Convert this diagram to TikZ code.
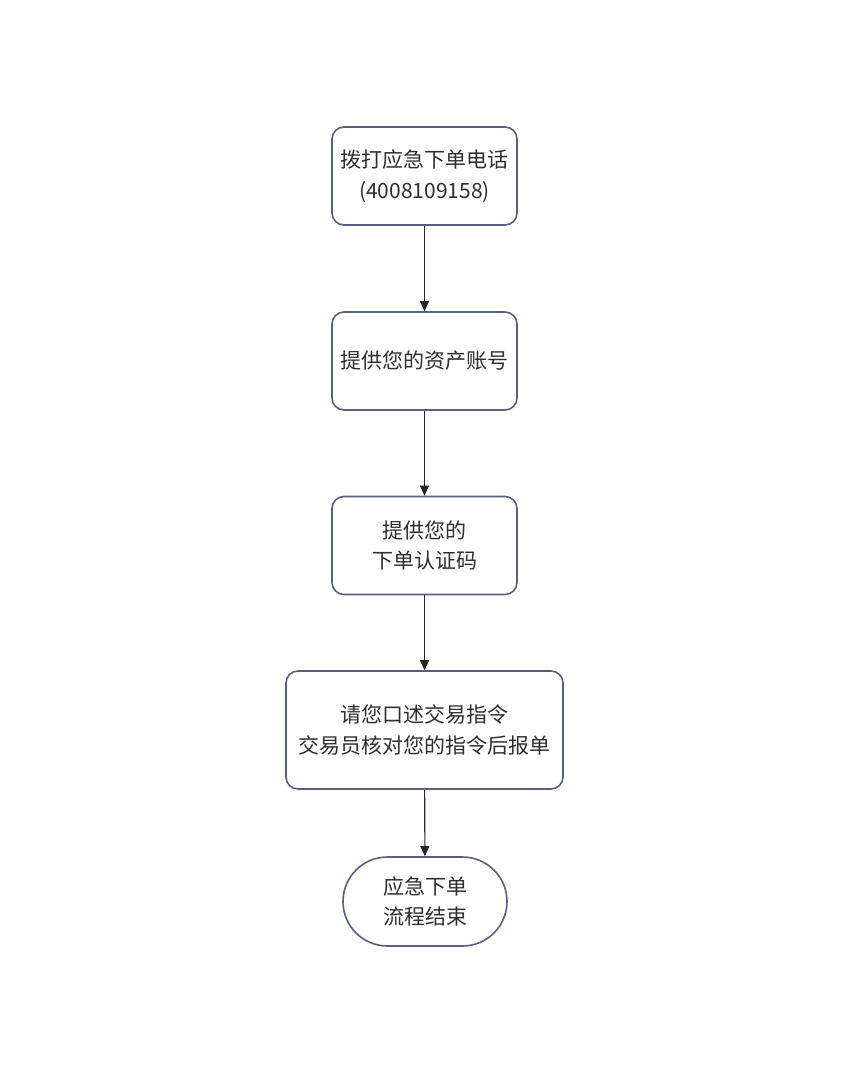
\documentclass[tikz,border=0pt]{standalone}
\usepackage{fontspec}
\setmainfont{Noto Sans CJK SC}
\usetikzlibrary{arrows.meta,shapes.misc}
\definecolor{bordc}{HTML}{5A5F80}
\definecolor{txtc}{HTML}{2E2E2E}
\tikzset{
  stepbox/.style={draw=bordc, line width=1.6pt, rounded corners=12pt, fill=white, text=txtc, align=center, font=\fontsize{21pt}{30.5pt}\selectfont, inner sep=0pt},
  endbox/.style={draw=bordc, line width=1.6pt, rounded rectangle, fill=white, text=txtc, align=center, font=\fontsize{21pt}{30.5pt}\selectfont, inner sep=0pt},
  conn/.style={draw=black!85, line width=1.1pt, -{Triangle[length=10pt,width=9pt]}}
}
\begin{document}
\begin{tikzpicture}[x=1pt,y=-1pt]
\useasboundingbox (0,0) rectangle (865,1072);
\node[stepbox, minimum width=185pt, minimum height=98pt] (a) at (424.5,176) {拨打应急下单电话\\(4008109158)};
\node[stepbox, minimum width=185pt, minimum height=98pt] (b) at (424.5,361) {提供您的资产账号};
\node[stepbox, minimum width=185pt, minimum height=98pt] (c) at (424.5,545.5) {提供您的\\下单认证码};
\node[stepbox, minimum width=277pt, minimum height=118pt] (d) at (424.5,730) {请您口述交易指令\\交易员核对您的指令后报单};
\node[endbox, minimum width=164pt, minimum height=89pt] (e) at (425,901.5) {应急下单\\流程结束};
\draw[conn] (a) -- (b);
\draw[conn] (b) -- (c);
\draw[conn] (c) -- (d);
\draw[conn] (d) -- (e);
\end{tikzpicture}
\end{document}
